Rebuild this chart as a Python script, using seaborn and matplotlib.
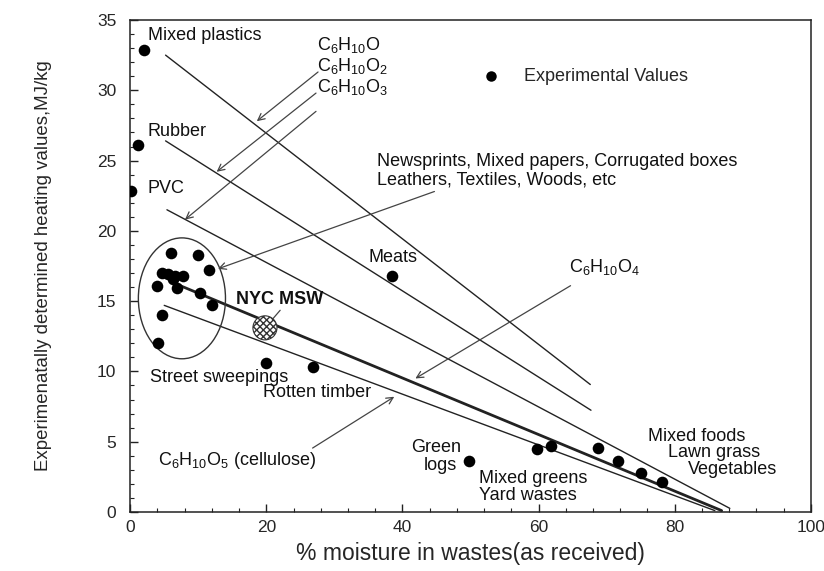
import matplotlib
matplotlib.use("Agg")
import matplotlib.pyplot as plt
from matplotlib.patches import Ellipse
from matplotlib.ticker import MultipleLocator
import seaborn as sns
import pandas as pd

# ---------------- data ----------------
exp_x = [2.0, 1.2, 0.1,
         6.0, 10.0, 11.6, 4.6, 5.6, 6.6, 7.8, 6.3, 4.0, 6.9, 10.2, 12.0, 4.6, 4.1,
         38.5, 19.9, 26.8, 49.8, 59.8, 61.8, 68.7, 71.7, 75.1, 78.1]
exp_y = [32.9, 26.1, 22.8,
         18.4, 18.3, 17.2, 17.0, 16.9, 16.8, 16.8, 16.6, 16.05, 15.95, 15.6, 14.7, 14.0, 12.0,
         16.8, 10.6, 10.3, 3.6, 4.5, 4.7, 4.55, 3.6, 2.8, 2.1]

nyc_x = [19.8]
nyc_y = [13.1]

line_names = ["C6H10O", "C6H10O2", "C6H10O3", "C6H10O4", "C6H10O5"]
line_x0 = [5.2, 5.2, 5.4, 7.6, 5.0]
line_y0 = [32.5, 26.4, 21.5, 16.05, 14.7]
line_x1 = [67.6, 67.7, 88.1, 86.9, 85.9]
line_y1 = [9.07, 7.24, 0.26, 0.1, 0.1]
line_w = [1.0, 1.0, 1.0, 2.0, 1.0]

x_ticks = [0, 20, 40, 60, 80, 100]
y_ticks = [0, 5, 10, 15, 20, 25, 30, 35]

# ---------------- style ----------------
sns.set_theme(style="ticks")
plt.rcParams["font.family"] = ["Liberation Sans", "DejaVu Sans"]
plt.rcParams["mathtext.fontset"] = "custom"
plt.rcParams["mathtext.rm"] = "Liberation Sans"
plt.rcParams["mathtext.it"] = "Liberation Sans"

fig = plt.figure(figsize=(8.24, 5.71), dpi=100)
ax = fig.add_axes([0.158, 0.1033, 0.826, 0.8617])

# lines
for i, n in enumerate(line_names):
    df = pd.DataFrame({"x": [line_x0[i], line_x1[i]], "y": [line_y0[i], line_y1[i]]})
    sns.lineplot(data=df, x="x", y="y", ax=ax, color="#222222",
                 linewidth=line_w[i], legend=False, zorder=2)

# experimental points
exp_df = pd.DataFrame({"x": exp_x, "y": exp_y})
sns.scatterplot(data=exp_df, x="x", y="y", ax=ax, color="black", s=70,
                edgecolor="black", linewidth=0, label="Experimental Values", zorder=4)

# NYC MSW hatched marker
ax.scatter(nyc_x, nyc_y, s=300, facecolor="white", edgecolor="#333333",
           hatch="xxxxx", linewidth=0.8, zorder=4)

# ellipse around cluster
ax.add_patch(Ellipse((7.6, 15.2), 12.8, 8.6, fill=False, edgecolor="#333333",
                     linewidth=1.0, zorder=3))

fs = 13
tk = dict(fontsize=fs, color="#111111", va="center")
ax.text(2.6, 33.9, "Mixed plastics", **tk)
ax.text(2.5, 27.1, "Rubber", **tk)
ax.text(2.5, 23.0, "PVC", **tk)
ax.text(36.3, 24.9, "Newsprints, Mixed papers, Corrugated boxes", **tk)
ax.text(36.3, 23.6, "Leathers, Textiles, Woods, etc", **tk)
ax.text(35.0, 18.1, "Meats", **tk)
ax.text(15.5, 15.1, "NYC MSW", fontweight="bold", **tk)
ax.text(2.9, 9.6, "Street sweepings", **tk)
ax.text(19.5, 8.5, "Rotten timber", **tk)
ax.text(45.0, 4.6, "Green", ha="center", **tk)
ax.text(45.5, 3.3, "logs", ha="center", **tk)
ax.text(51.2, 2.4, "Mixed greens", **tk)
ax.text(51.2, 1.2, "Yard wastes", **tk)
ax.text(76.1, 5.4, "Mixed foods", **tk)
ax.text(79.0, 4.2, "Lawn grass", **tk)
ax.text(82.0, 3.0, "Vegetables", **tk)

ax.text(27.5, 33.2, r"C$_6$H$_{10}$O", **tk)
ax.text(27.5, 31.7, r"C$_6$H$_{10}$O$_2$", **tk)
ax.text(27.5, 30.2, r"C$_6$H$_{10}$O$_3$", **tk)
ax.text(64.4, 17.4, r"C$_6$H$_{10}$O$_4$", **tk)
ax.text(4.1, 3.7, r"C$_6$H$_{10}$O$_5$ (cellulose)", **tk)

arrow = dict(arrowstyle="->", color="#444444", lw=0.9, shrinkA=0, shrinkB=0)
for (xs, ys, xe, ye) in [(27.6, 31.3, 18.6, 27.8),
                         (27.3, 29.8, 12.7, 24.2),
                         (27.3, 28.5, 8.05, 20.8),
                         (44.7, 22.8, 12.9, 17.3),
                         (64.7, 16.1, 41.9, 9.5),
                         (26.8, 4.55, 38.8, 8.2)]:
    ax.annotate("", xy=(xe, ye), xytext=(xs, ys), arrowprops=arrow, zorder=3)
ax.annotate("", xy=(20.7, 13.6), xytext=(22.3, 14.5),
            arrowprops=dict(arrowstyle="-", color="#444444", lw=0.9), zorder=3)

# axes
ax.set_xlim(0, 100)
ax.set_ylim(0, 35)
ax.set_xticks(x_ticks)
ax.set_yticks(y_ticks)
ax.xaxis.set_minor_locator(MultipleLocator(4))
ax.yaxis.set_minor_locator(MultipleLocator(1))
ax.tick_params(which="both", direction="in", top=False, right=False,
               labelsize=12.5, color="#222222")
ax.tick_params(which="major", length=6, width=1)
ax.tick_params(which="minor", length=3, width=0.8)
ax.tick_params(axis="y", which="major", pad=10)
ax.tick_params(axis="x", which="major", pad=6)
for sp in ax.spines.values():
    sp.set_visible(True)
    sp.set_linewidth(1.1)
    sp.set_color("#222222")

ax.set_xlabel("% moisture in wastes(as received)", fontsize=16.5, labelpad=5)
ax.set_ylabel("Experimenatally determined heating values,MJ/kg", fontsize=13.4)
ax.yaxis.set_label_coords(-0.115, 0.5)

leg = ax.legend(loc="center left", bbox_to_anchor=(0.48, 0.885), frameon=False,
                fontsize=13, handletextpad=0.8, markerscale=0.9)

fig.savefig("out.png", dpi=100)
